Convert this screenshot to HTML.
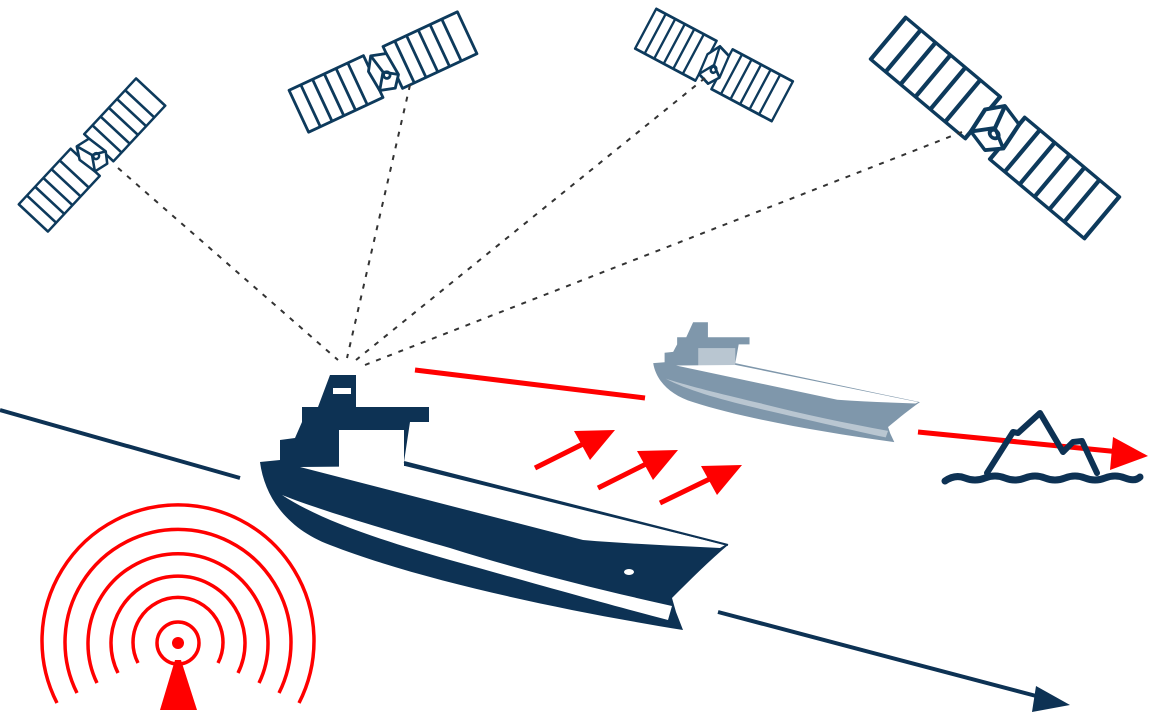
<!DOCTYPE html>
<html><head><meta charset="utf-8"><style>html,body{margin:0;padding:0;background:#fff}svg{display:block}</style></head>
<body>
<svg width="1150" height="717" viewBox="0 0 1150 717" xmlns="http://www.w3.org/2000/svg">
<defs>
<g id="sat" fill="none" stroke="#0d3a5c" stroke-width="2.6" stroke-linejoin="round">
  <rect x="-86" y="-21" width="76" height="42" fill="#fff"/>
  <path d="M-74,-21V21M-62,-21V21M-50,-21V21M-38,-21V21M-26,-21V21"/>
  <rect x="10" y="-21" width="76" height="42" fill="#fff"/>
  <path d="M22,-21V21M34,-21V21M46,-21V21M58,-21V21M70,-21V21"/>
  <path d="M-12,-6L-4,-18L10,-14L12,8L4,18L-10,14Z" fill="#fff"/>
  <path d="M-4,-18L0,0L-10,14M0,0L12,8"/>
  <circle cx="2" cy="4" r="3"/>
</g>
</defs>

<!-- satellites -->
<use href="#sat" transform="translate(92,155) rotate(-47) scale(1,0.95)"/>
<use href="#sat" transform="translate(383,72) rotate(-25) scale(1.08,1.1)"/>
<use href="#sat" transform="translate(714,65) rotate(28) scale(0.9,1.07)"/>
<use href="#sat" transform="translate(995,128) rotate(40) scale(1.62,1.3)"/>

<!-- dotted lines -->
<g stroke="#333" stroke-width="2" stroke-dasharray="5,7" fill="none">
  <path d="M118,168 L338,360"/>
  <path d="M410,85 L347,358"/>
  <path d="M705,78 L356,360"/>
  <path d="M962,132 L365,365"/>
</g>

<!-- navy course line -->
<path d="M0,410 L240,478" stroke="#0d3254" stroke-width="4"/>
<path d="M718,612 L1040,697" stroke="#0d3254" stroke-width="4"/>
<path d="M1070,705 L1036,686 L1032,712 Z" fill="#0d3254"/>

<!-- ghost ship -->
<g transform="translate(505,146) scale(0.57,0.47)">
  <path d="M318,407 L330,375 L356,375 L356,407 L429,407 L429,422 L410,422 L404,462 L728,545 C710,560 690,580 672,598 L676,612 L683,630 C560,610 420,580 330,545 C290,530 265,500 260,462 L280,460 L280,440 L295,438 L302,422 L302,407 Z" fill="#7f97ab"/>
  <rect x="339" y="430" width="65" height="41" fill="#b9c6d1"/>
  <path d="M300,467 L405,466 L725,545 L720,548 C680,546 630,544 583,540 Z" fill="#fff"/>
  <path d="M282,495 C320,520 380,540 450,560 C540,585 610,605 668,620 L672,606 C600,590 520,570 450,548 C380,528 320,510 282,495Z" fill="#b9c6d1"/>
</g>

<!-- main ship -->
<g fill="#0d3254">
  <path d="M318,407 L330,375 L356,375 L356,407 L429,407 L429,422 L410,422 L404,462 L728,545 C710,560 690,580 672,598 L676,612 L683,630 C560,610 420,580 330,545 C290,530 265,500 260,462 L280,460 L280,440 L295,438 L302,422 L302,407 Z"/>
  <rect x="339" y="430" width="65" height="41" fill="#fff"/>
  <path d="M300,467 L405,466 L725,545 L720,548 C680,546 630,544 583,540 Z" fill="#fff"/>
  <path d="M404,462 L728,545" stroke="#0d3254" stroke-width="2"/>
  <path d="M282,495 C320,520 380,540 450,560 C540,585 610,605 668,620 L672,606 C600,590 520,570 450,548 C380,528 320,510 282,495Z" fill="#fff"/>
  <ellipse cx="629" cy="572" rx="5" ry="3" fill="#fff"/>
  <rect x="333" y="388" width="18" height="6" fill="#fff"/>
</g>

<!-- red lines/arrows -->
<g stroke="#f00" stroke-width="5" fill="#f00">
  <path d="M415,370 L645,398"/>
  <path d="M918,432 L1120,452"/>
  <path d="M535,468 L595,438"/>
  <path d="M598,488 L658,458"/>
  <path d="M660,503 L722,473"/>
</g>
<g fill="#f00">
  <path d="M1148,456 L1113,437 L1110,470 Z"/>
  <path d="M615,430 L574,431 L590,460 Z"/>
  <path d="M678,450 L637,451 L653,480 Z"/>
  <path d="M742,465 L701,466 L717,495 Z"/>
</g>

<!-- iceberg -->
<g fill="none" stroke="#0d3254" stroke-width="6" stroke-linecap="round" stroke-linejoin="round">
  <path d="M987,473 L1013,432 L1018,433 L1040,413 L1063,452 L1073,442 L1082,441 L1097,473"/>
  <path d="M945,481 Q955,474 965,478 T985,478 T1005,478 T1025,478 T1045,478 T1065,478 T1085,478 T1105,478 T1125,478 T1140,477" stroke-width="7"/>
</g>

<!-- radar -->
<g fill="none" stroke="#f00" stroke-width="3.5">
  <circle cx="178" cy="643" r="21"/>
  <path d="M138,663 A45,45 0 1 1 218,663"/>
  <path d="M118,673 A67,67 0 1 1 238,673"/>
  <path d="M97,683 A90,90 0 1 1 259,683"/>
  <path d="M77,693 A113,113 0 1 1 279,693"/>
  <path d="M57,703 A136,136 0 1 1 299,703"/>
</g>
<circle cx="178" cy="643" r="6" fill="#f00"/>
<path d="M175,660 L181,660 L197,710 L160,710 Z" fill="#f00"/>
</svg>
</body></html>
